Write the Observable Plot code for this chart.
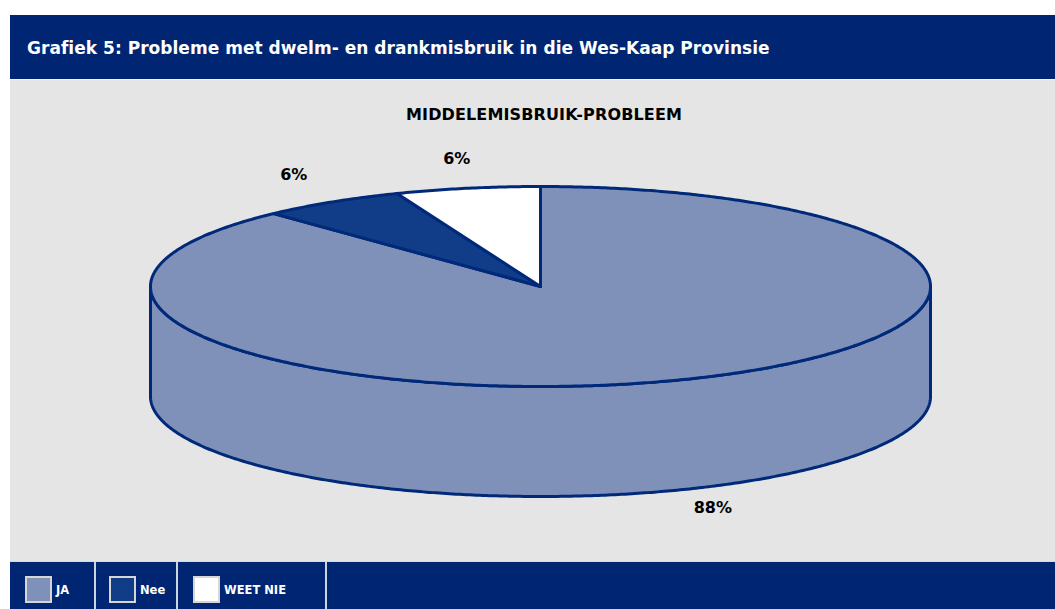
<!DOCTYPE html>
<html><head><meta charset="utf-8">
<script src="https://cdn.jsdelivr.net/npm/d3@7"></script>
<script src="https://cdn.jsdelivr.net/npm/@observablehq/plot@0.6"></script>
<style>
html,body{margin:0;padding:0;background:#fff;overflow:hidden;font-family:"DejaVu Sans",sans-serif;}
#wrap{position:absolute;left:10px;top:15px;width:1045px;}
#header{position:relative;height:64px;background:#002673;}
#title{position:absolute;left:17px;top:23px;line-height:20px;font-size:17px;font-weight:bold;color:#fff;white-space:nowrap;}
#panel{position:relative;height:481px;background:#e5e5e5;border-top:1px solid #f3f3f3;}
#subtitle{position:absolute;left:534px;top:25px;line-height:20px;font-size:16px;font-weight:bold;color:#000;white-space:nowrap;transform:translateX(-50%);}
#chart{position:absolute;left:0;top:0;}
#legend{display:flex;height:60px;background:#002673;border-top:1px solid #d3d9e5;}
.cell{display:flex;align-items:center;height:55px;box-sizing:border-box;border-right:2px solid #cdd4e2;}
.sw{width:23px;height:23px;border:2px solid #d6d6d6;}
.lt{margin-left:4px;color:#fff;font-weight:bold;font-size:11.5px;white-space:nowrap;}
</style></head>
<body>
<div id="wrap">
  <div id="header"><div id="title">Grafiek 5: Probleme met dwelm- en drankmisbruik in die Wes-Kaap Provinsie</div></div>
  <div id="panel"><div id="subtitle">MIDDELEMISBRUIK-PROBLEEM</div><div id="chart"></div></div>
  <div id="legend"></div>
</div>
<script>
// ---- data ----
const categories = ["JA", "Nee", "WEET NIE"];
const values = [88, 6, 6];
const colors = ["#8091b9", "#113c87", "#ffffff"];

// ---- layout constants ----
const D = 1.1;              // pie depth, in radius units of the vertical axis
const outline = "#00297a";
const step = Math.PI / 360;

const pie = d3.pie().sort(null)(values); // clockwise from 12 o'clock

// top faces
const topPts = [];
pie.forEach((a, i) => {
  const ts = d3.range(a.startAngle, a.endAngle, step).concat([a.endAngle]);
  const pts = [[0, 0]].concat(ts.map(t => [Math.sin(t), -Math.cos(t)]), [[0, 0]]);
  pts.forEach(([x, y]) => topPts.push({cat: categories[i], x, y}));
});

// visible front walls
const wallPts = [];
pie.forEach((a, i) => {
  const s = Math.max(a.startAngle, Math.PI / 2), e = Math.min(a.endAngle, 3 * Math.PI / 2);
  if (e <= s) return;
  const ts = d3.range(s, e, step).concat([e]);
  const pts = ts.map(t => [Math.sin(t), -Math.cos(t)])
    .concat(ts.slice().reverse().map(t => [Math.sin(t), -Math.cos(t) + D]));
  pts.push(pts[0]);
  pts.forEach(([x, y]) => wallPts.push({cat: categories[i], x, y}));
});

// labels
const labs = pie.map((a, i) => {
  const m = (a.startAngle + a.endAngle) / 2;
  const front = Math.cos(m) < 0;
  return {text: values[i] + "%", x: 1.2 * Math.sin(m), y: -1.2 * Math.cos(m) + (front ? D : 0), front};
});

const chart = Plot.plot({
  width: 1045, height: 481,
  marginLeft: 140, marginRight: 125, marginTop: 106, marginBottom: 65,
  x: {domain: [-1, 1], axis: null},
  y: {domain: [-1, 1 + D], reverse: true, axis: null},
  color: {domain: categories, range: colors},
  style: {background: "transparent", overflow: "visible"},
  marks: [
    Plot.line(wallPts, {x: "x", y: "y", z: "cat", fill: "cat", stroke: outline, strokeWidth: 3, strokeLinejoin: "round", curve: "linear"}),
    Plot.line(topPts, {x: "x", y: "y", z: "cat", fill: "cat", stroke: outline, strokeWidth: 3, strokeLinejoin: "round", curve: "linear"}),
    Plot.text(labs.filter(d => d.front), {x: "x", y: "y", text: "text", dy: 0, fill: "#000", fontSize: 16, fontWeight: "bold", fontFamily: "DejaVu Sans"}),
    Plot.text(labs.filter(d => !d.front), {x: "x", y: "y", text: "text", dx: 4, dy: -10, fill: "#000", fontSize: 16, fontWeight: "bold", fontFamily: "DejaVu Sans"})
  ]
});
document.getElementById("chart").appendChild(chart);

// legend
const cellW = [86, 82, 149];
const swPad = [15, 13, 15];
const leg = document.getElementById("legend");
categories.forEach((c, i) => {
  const cell = document.createElement("div");
  cell.className = "cell";
  cell.style.width = cellW[i] + "px";
  const sw = document.createElement("div");
  sw.className = "sw";
  sw.style.background = colors[i];
  sw.style.marginLeft = swPad[i] + "px";
  const t = document.createElement("div");
  t.className = "lt";
  t.textContent = c;
  cell.appendChild(sw); cell.appendChild(t);
  leg.appendChild(cell);
});

// fit text widths to reference
function fit(id, target) {
  const el = document.getElementById(id);
  const w = el.getBoundingClientRect().width;
  const n = el.textContent.length;
  el.style.letterSpacing = ((target - w) / n) + "px";
}
fit("title", 742);
fit("subtitle", 276);
</script>
</body></html>
